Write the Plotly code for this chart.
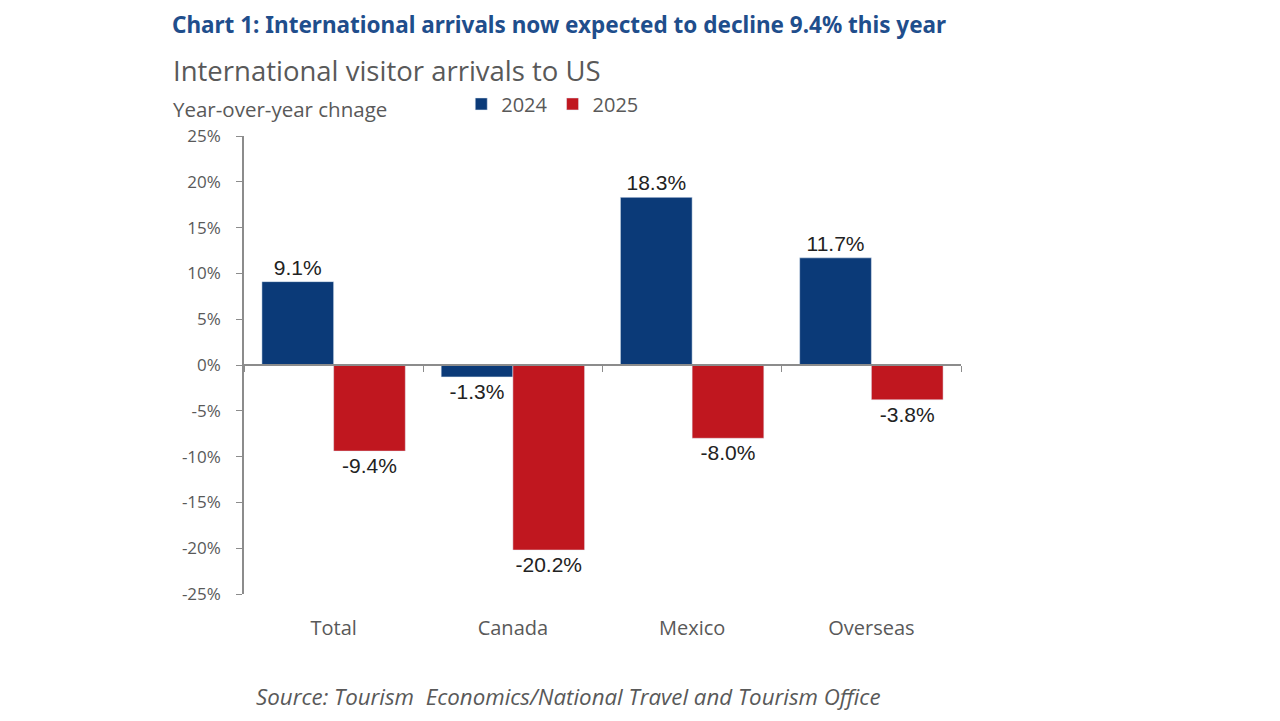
import plotly.graph_objects as go

# values
regions = ["Total", "Canada", "Mexico", "Overseas"]
yoy_2024 = [9.1, -1.3, 18.3, 11.7]
yoy_2025 = [-9.4, -20.2, -8.0, -3.8]
y_ticks = [25, 20, 15, 10, 5, 0, -5, -10, -15, -20, -25]

navy = "#0B3A78"
red = "#C0171F"
grey = "#595959"
axis_grey = "#8C8C8C"

fig = go.Figure()
fig.add_trace(go.Bar(
    x=regions, y=yoy_2024, name="2024", marker_color=navy,
    text=[f"{v:.1f}%" for v in yoy_2024], textposition="outside",
    textfont=dict(family="Liberation Sans", size=21, color="#222222"),
    cliponaxis=False,
))
fig.add_trace(go.Bar(
    x=regions, y=yoy_2025, name="2025", marker_color=red,
    text=[f"{v:.1f}%" for v in yoy_2025], textposition="outside",
    textfont=dict(family="Liberation Sans", size=21, color="#222222"),
    cliponaxis=False,
))

# invisible trace so the second x axis (zero line with boundary ticks) is drawn
fig.add_trace(go.Bar(x=regions, y=[0, 0, 0, 0], xaxis="x2", showlegend=False,
                     hoverinfo="skip", marker_color="rgba(0,0,0,0)"))

fig.update_layout(
    width=1280, height=721,
    paper_bgcolor="white", plot_bgcolor="white",
    barmode="group", bargap=0.2, bargroupgap=0,
    margin=dict(l=236, r=327, t=128, b=135, autoexpand=False),
    font=dict(family="Open Sans", color=grey, size=17),
    showlegend=True,
    legend=dict(orientation="h", x=0.303, y=1.07, xanchor="left", yanchor="middle",
                font=dict(size=20, color=grey), itemwidth=30, tracegroupgap=0,
                bgcolor="rgba(0,0,0,0)"),
    xaxis=dict(showline=False, ticks="", showgrid=False, automargin=False,
               tickfont=dict(size=20, color=grey), ticklabelstandoff=20),
    xaxis2=dict(overlaying="x", matches="x", anchor="free", position=0.5,
                showline=True, linecolor=axis_grey, linewidth=1.5,
                ticks="outside", tickson="boundaries", ticklen=6,
                tickcolor=axis_grey, showticklabels=False, showgrid=False),
    yaxis=dict(range=[-25, 25], tickvals=y_ticks,
               ticktext=[f"{v}%" for v in y_ticks],
               showline=True, linecolor=axis_grey, linewidth=1.5,
               ticks="outside", ticklen=6, tickcolor=axis_grey,
               showgrid=False, zeroline=False, automargin=False,
               ticklabelstandoff=12,
               tickfont=dict(size=17, color=grey)),
)

# title block above the plot (top of the first line kept inside the figure)
fig.add_annotation(text="<b>Chart 1: International arrivals now expected to decline 9.4% this year</b>",
                   xref="paper", yref="paper", x=-0.102, y=1.279, xanchor="left", yanchor="top",
                   showarrow=False, borderpad=0,
                   font=dict(family="Noto Sans", size=22.5, color="#1F4E8C"))
fig.add_annotation(text="International visitor arrivals to US",
                   xref="paper", yref="paper", x=-0.102, y=1.142, xanchor="left", yanchor="middle",
                   showarrow=False, font=dict(family="Open Sans", size=27.5, color=grey))
fig.add_annotation(text="Year-over-year chnage",
                   xref="paper", yref="paper", x=-0.102, y=1.059, xanchor="left", yanchor="middle",
                   showarrow=False, font=dict(family="Open Sans", size=20.5, color=grey))
fig.add_annotation(text="<i>Source: Tourism  Economics/National Travel and Tourism Office</i>",
                   xref="paper", yref="paper", x=0.452, y=-0.223, xanchor="center", yanchor="middle",
                   showarrow=False, font=dict(family="Open Sans", size=22.3, color=grey))

fig.write_html("out.html")
